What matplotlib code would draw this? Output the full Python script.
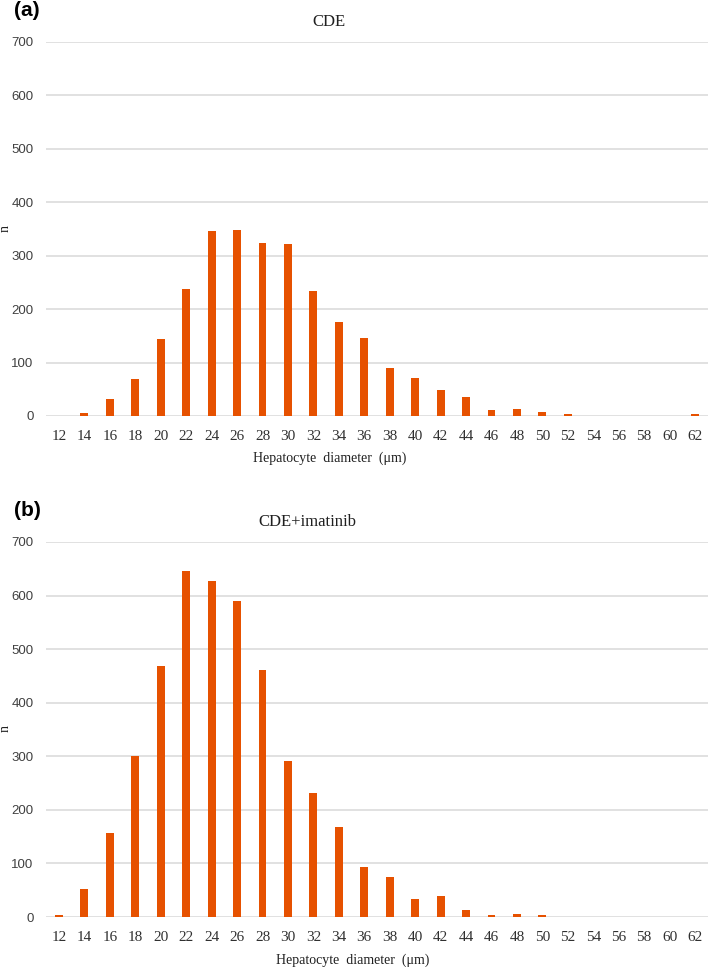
import matplotlib.pyplot as plt
import numpy as np

# diametros (um) e contagens
diametros = list(range(12, 63, 2))
cde = [0, 6, 31, 70, 145, 238, 347, 349, 324, 322, 234, 176, 146,
       89, 72, 49, 36, 11, 13, 8, 4, 0, 0, 0, 0, 3]
cde_imatinib = [4, 52, 156, 300, 469, 645, 627, 590, 462, 291, 231, 168, 93,
                75, 34, 39, 14, 4, 6, 4, 0, 0, 0, 0, 0, 0]
yticks = [0, 100, 200, 300, 400, 500, 600, 700]

cor = "#E65100"
W, H = 709, 967

fig = plt.figure(figsize=(W / 100, H / 100), dpi=100)

def painel(y_top, y_bot, valores):
    ax = fig.add_axes([46 / W, 1 - y_bot / H, (708 - 46) / W, (y_bot - y_top) / H])
    x = np.arange(len(diametros))
    ax.bar(x, valores, width=0.31, color=cor, zorder=3)
    ax.set_xlim(-0.51, len(diametros) - 0.49)
    ax.set_ylim(0, 700)
    ax.set_yticks(yticks)
    ax.set_yticklabels([str(v) for v in yticks], family="Liberation Sans", fontsize=9.5, color="#404040")
    ax.set_xticks(x)
    ax.set_xticklabels([str(d) for d in diametros], family="Liberation Serif", fontsize=11, color="#303030")
    ax.tick_params(length=0)
    ax.tick_params(axis="y", pad=9)
    ax.tick_params(axis="x", pad=10)
    ax.grid(axis="y", color="#D9D9D9", linewidth=1.1, zorder=0)
    for s in ax.spines.values():
        s.set_visible(False)
    return ax

painel(42, 416, cde)
painel(542, 917, cde_imatinib)

serif = "Liberation Serif"
fig.text(27 / W, 1 - 10 / H, "(a)", family="Liberation Sans", weight="bold", fontsize=15, ha="center", va="center")
fig.text(27 / W, 1 - 511 / H, "(b)", family="Liberation Sans", weight="bold", fontsize=15, ha="center", va="center")
fig.text(329 / W, 1 - 22 / H, "CDE", family=serif, fontsize=12, ha="center", va="center", color="#202020")
fig.text(307 / W, 1 - 522 / H, "CDE+imatinib", family=serif, fontsize=12, ha="center", va="center", color="#202020")
fig.text(330 / W, 1 - 458 / H, "Hepatocyte  diameter  (\u03bcm)", family=serif, fontsize=10, ha="center", va="center", color="#202020")
fig.text(353 / W, 1 - 960 / H, "Hepatocyte  diameter  (\u03bcm)", family=serif, fontsize=10, ha="center", va="center", color="#202020")
fig.text(5 / W, 1 - 229 / H, "n", family=serif, fontsize=10, rotation=90, ha="center", va="center", color="#202020")
fig.text(5 / W, 1 - 728 / H, "n", family=serif, fontsize=10, rotation=90, ha="center", va="center", color="#202020")

fig.savefig("out.png", dpi=100)
